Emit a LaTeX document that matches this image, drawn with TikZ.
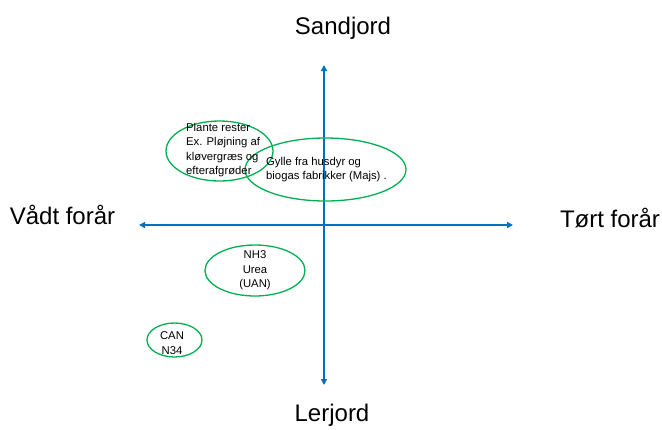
\documentclass[tikz,border=0pt]{standalone}
\usepackage{fontspec}
\setmainfont{Liberation Sans}
\usetikzlibrary{arrows.meta,shapes.geometric}
\definecolor{axisblue}{RGB}{0,112,192}
\definecolor{ovalgreen}{RGB}{0,176,80}
\begin{document}
\begin{tikzpicture}[x=1pt,y=-1pt,
  axis/.style={draw=axisblue,line width=1.8pt,{Triangle[length=6pt,width=6pt]}-{Triangle[length=6pt,width=6pt]}},
  oval/.style={draw=ovalgreen,line width=1.3pt,ellipse,inner sep=0pt},
  biglabel/.style={font=\fontsize{24}{28}\selectfont,inner sep=0pt},
  smalltext/.style={font=\fontsize{11.3}{14.5}\selectfont,inner sep=0pt}]
\useasboundingbox (0,0) rectangle (662,429);
\coordinate (top) at (324,65);
\coordinate (bottom) at (324,385);
\coordinate (left) at (139,225);
\coordinate (right) at (513,225);
\draw[axis] (bottom) -- (top);
\draw[axis] (left) -- (right);
\node[biglabel] (sand) at (343,28) {Sandjord};
\node[biglabel] (ler) at (332,415) {Lerjord};
\node[biglabel] (vaadt) at (62.5,215) {Vådt forår};
\node[biglabel] (toert) at (610,218) {Tørt forår};
\node[oval,minimum width=107pt,minimum height=60pt] (e1) at (219.5,151) {};
\node[oval,minimum width=161pt,minimum height=63pt] (e2) at (325.5,169.5) {};
\node[oval,minimum width=100pt,minimum height=51pt] (e3) at (255,270.5) {};
\node[oval,minimum width=55pt,minimum height=34pt] (e4) at (174.5,340) {};
\node[smalltext,align=left,anchor=north west] (t1) at (186,123) {Plante rester\\Ex. Pløjning af\\kløvergræs og\\efterafgrøder};
\node[smalltext,align=left,anchor=north west] (t2) at (266,157) {Gylle fra husdyr og\\biogas fabrikker (Majs) .};
\node[smalltext,align=center] (t3) at (255,270.5) {NH3\\Urea\\(UAN)};
\node[smalltext,align=center] (t4) at (172,343) {CAN\\N34};
\end{tikzpicture}
\end{document}
